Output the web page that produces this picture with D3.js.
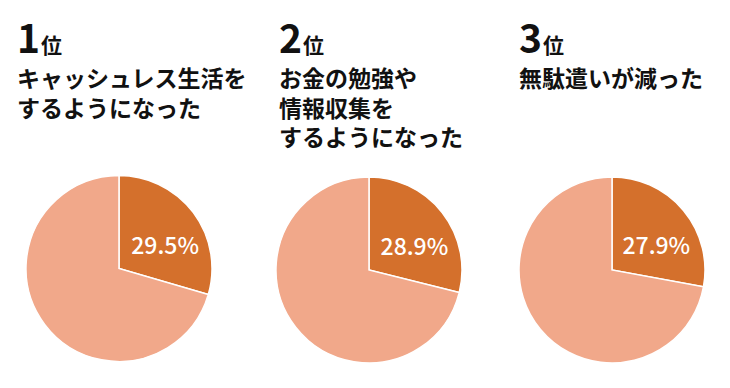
<!DOCTYPE html>
<html><head><meta charset="utf-8">
<script src="https://cdn.jsdelivr.net/npm/d3@7"></script>
<style>
html,body{margin:0;padding:0;background:#fff;}
svg{display:block;}
text{font-family:"Noto Sans CJK JP","Noto Sans",sans-serif;}
</style></head>
<body>
<script>
const ranks = ["1", "2", "3"];
const titleLines = [
  ["キャッシュレス生活を", "するようになった"],
  ["お金の勉強や", "情報収集を", "するようになった"],
  ["無駄遣いが減った"]
];
const values = [29.5, 28.9, 27.9];
const colors = ["#D4702C", "#F1A88A"];

const W = 730, H = 388;
const svg = d3.select("body").append("svg").attr("width", W).attr("height", H);

const colX = [17, 279, 519];
const pieCX = [119, 369, 612];
const pieCY = [268.5, 270, 270];
const R = 93;

const pie = d3.pie().sort(null).value(d => d);
const arc = d3.arc().innerRadius(0).outerRadius(R);
const labelArc = d3.arc().innerRadius(R * 0.62).outerRadius(R * 0.62);

values.forEach((v, i) => {
  const x0 = colX[i];
  const t = svg.append("text").attr("x", x0).attr("y", 53).attr("fill", "#111");
  t.append("tspan").attr("font-size", 39).attr("font-weight", 700).text(ranks[i]);
  t.append("tspan").attr("font-size", 21).attr("font-weight", 700).attr("dx", 1).text("位");

  const body = svg.append("text").attr("x", x0).attr("y", 87)
    .attr("font-size", 23).attr("font-weight", 700).attr("fill", "#111");
  titleLines[i].forEach((line, j) => {
    body.append("tspan").attr("x", x0).attr("dy", j === 0 ? 0 : 29.5).text(line);
  });

  const g = svg.append("g").attr("transform", `translate(${pieCX[i]},${pieCY[i]})`);
  const arcs = pie([v, 100 - v]);
  g.selectAll("path").data(arcs).enter().append("path")
    .attr("d", arc)
    .attr("fill", (d, k) => colors[k])
    .attr("stroke", "#fff").attr("stroke-width", 1.5);
  const c = labelArc.centroid(arcs[0]);
  g.append("text")
    .attr("x", c[0]).attr("y", c[1] * 0.7)
    .attr("text-anchor", "middle").attr("dominant-baseline", "central")
    .attr("font-family", "'Noto Sans',sans-serif")
    .attr("font-size", 23).attr("font-weight", 500).attr("fill", "#fff")
    .text(v.toFixed(1) + "%");
});
</script>
</body></html>
